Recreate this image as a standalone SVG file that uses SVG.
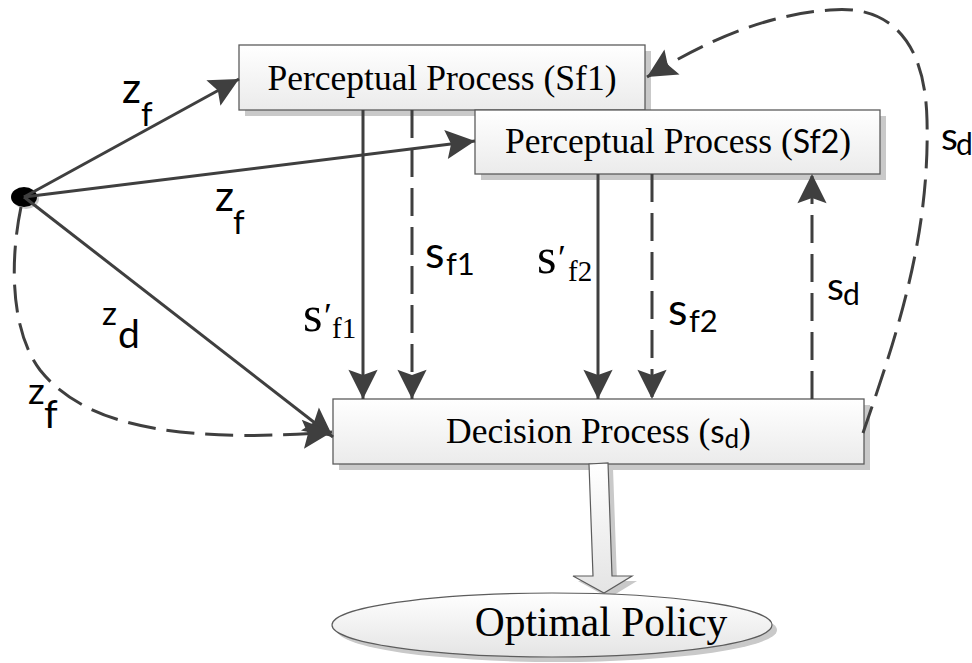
<svg xmlns="http://www.w3.org/2000/svg" width="972" height="663" viewBox="0 0 972 663">
  <defs>
    <linearGradient id="boxFill" x1="0" y1="0" x2="0" y2="1">
      <stop offset="0" stop-color="#ffffff"/>
      <stop offset="1" stop-color="#ebebeb"/>
    </linearGradient>
    <linearGradient id="ellFill" x1="0" y1="0" x2="0" y2="1">
      <stop offset="0" stop-color="#ffffff"/>
      <stop offset="1" stop-color="#e4e4e4"/>
    </linearGradient>
    <marker id="head" markerUnits="userSpaceOnUse" markerWidth="33" markerHeight="33" viewBox="-24 -13 26 26" refX="0" refY="0" orient="auto">
      <path d="M0,0 L-23,-11.5 L-19,0 L-23,11.5 Z" fill="#3f3f3f"/>
    </marker>
  </defs>
  <style>
    .box { fill: url(#boxFill); stroke: #5c5c5c; stroke-width: 1.3; }
    .shadow { fill: #c9c9c9; }
    .title { font-family: "Liberation Serif", "Times New Roman", serif; font-size: 35.5px; fill: #000; }
    .sans { font-family: Lato, "Noto Sans", sans-serif; fill: #000; }
    .serif { font-family: "Liberation Serif", "Times New Roman", serif; fill: #000; }
    .edge { fill: none; stroke: #3f3f3f; stroke-width: 3; }
    .dash { stroke-dasharray: 28 11; }
    .arrow { marker-end: url(#head); }
  </style>

  <rect width="972" height="663" fill="#ffffff"/>

  <!-- source point -->
  <g id="source">
    <ellipse cx="26" cy="199" rx="13" ry="10" fill="#c9c9c9"/>
    <ellipse cx="24" cy="197" rx="13" ry="10" fill="#000"/>
  </g>

  <!-- perceptual process 1 -->
  <g id="perceptual1">
    <rect class="shadow" x="245" y="51" width="406" height="65"/>
    <rect class="box" x="239" y="45" width="406" height="65"/>
    <text class="title" x="442" y="90" text-anchor="middle">Perceptual Process (Sf1)</text>
  </g>

  <!-- perceptual process 2 -->
  <g id="perceptual2">
    <rect class="shadow" x="481" y="116" width="405" height="64"/>
    <rect class="box" x="475" y="110" width="405" height="64"/>
    <text class="title" x="505" y="153">Perceptual Process (<tspan class="sans" font-size="32">Sf2</tspan>)</text>
  </g>

  <!-- decision process -->
  <g id="decision">
    <rect class="shadow" x="339" y="405" width="531" height="65"/>
    <rect class="box" x="333" y="399" width="531" height="65"/>
    <text class="title" x="446" y="443">Decision Process (<tspan class="sans" font-size="33">s</tspan><tspan class="sans" font-size="26" dy="5">d</tspan><tspan dy="-5">)</tspan></text>
  </g>

  <!-- output: wide arrow and policy ellipse -->
  <g id="policy">
    <polygon points="594,469 613,468 617,581 637,581 609,598 578,581 598,581" fill="#c9c9c9"/>
    <polygon points="589,464 608,463 612,576 632,576 604,593 573,576 593,576" fill="url(#ellFill)" stroke="#5c5c5c" stroke-width="1.2"/>
    <ellipse cx="557" cy="630" rx="220" ry="32" fill="#c9c9c9"/>
    <ellipse cx="552" cy="625" rx="220" ry="32" fill="url(#ellFill)" stroke="#5c5c5c" stroke-width="1.2"/>
    <text class="serif" x="601" y="636" font-size="41.5" text-anchor="middle">Optimal Policy</text>
  </g>

  <!-- connectors -->
  <g id="connectors">
    <path class="edge arrow" d="M24,197 L239,79"/>
    <path class="edge arrow" d="M24,197 L475,141"/>
    <path class="edge arrow" d="M24,197 L333,437"/>
    <path class="edge dash arrow" d="M21,207 C10,260 10,330 40,370 C80,420 160,445 332,432"/>
    <path class="edge arrow" d="M363,110 L363,399"/>
    <path class="edge dash arrow" d="M412,110 L412,399"/>
    <path class="edge arrow" d="M598,174 L598,399"/>
    <path class="edge dash arrow" d="M652,174 L652,399"/>
    <path class="edge dash arrow" d="M812,399 L812,174"/>
    <path class="edge dash arrow" d="M863,433 C895,340 930,240 927,120 C925,30 880,5 830,10 C760,15 700,45 647,77"/>

    <!-- connector labels -->
    <text class="sans"><tspan x="122" y="103" font-size="42">z</tspan><tspan x="141" y="126" font-size="33">f</tspan></text>
    <text class="sans"><tspan x="215" y="211" font-size="42">z</tspan><tspan x="233" y="234" font-size="33">f</tspan></text>
    <text class="sans"><tspan x="102" y="325" font-size="33">z</tspan><tspan x="118" y="348" font-size="39">d</tspan></text>
    <text class="sans"><tspan x="28" y="404" font-size="37">z</tspan><tspan x="44" y="428" font-size="39">f</tspan></text>

    <text class="serif"><tspan x="303" y="331" font-size="50">s</tspan><tspan x="324" y="328" font-size="36">′</tspan><tspan x="332" y="338" font-size="29">f1</tspan></text>
    <text class="serif"><tspan x="537" y="273" font-size="50">s</tspan><tspan x="558" y="270" font-size="36">′</tspan><tspan x="568" y="281" font-size="29">f2</tspan></text>

    <text class="sans"><tspan x="425" y="268" font-size="45">s</tspan><tspan x="446" y="275" font-size="31">f1</tspan></text>
    <text class="sans"><tspan x="668" y="325" font-size="45">s</tspan><tspan x="689" y="332" font-size="31">f2</tspan></text>
    <text class="sans"><tspan x="827" y="300" font-size="39">s</tspan><tspan x="843" y="305" font-size="30">d</tspan></text>
    <text class="sans"><tspan x="941" y="150" font-size="39">s</tspan><tspan x="956" y="155" font-size="30">d</tspan></text>
  </g>
</svg>
